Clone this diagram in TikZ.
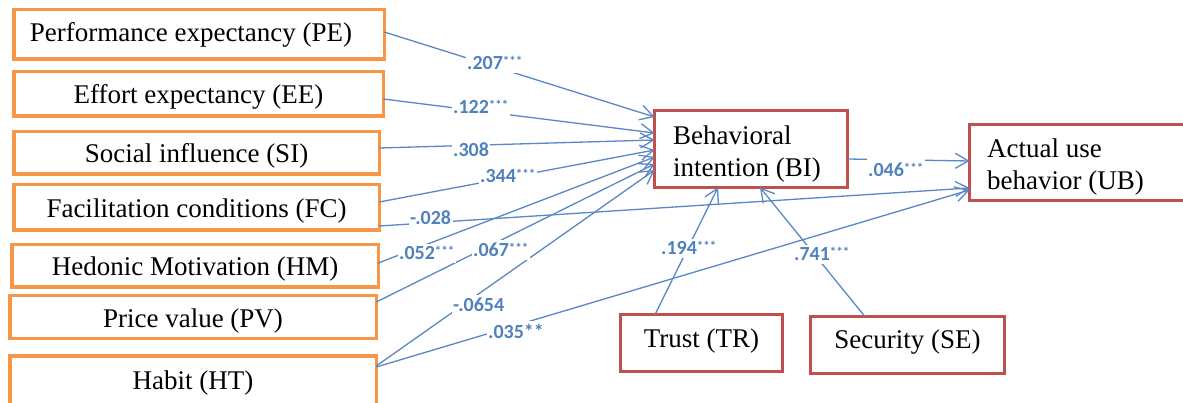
\documentclass[tikz,border=0pt]{standalone}
\usepackage{fontspec}
\setmainfont{Liberation Serif}
\newfontfamily\coeffont{Carlito}
\usetikzlibrary{arrows.meta}
\definecolor{orangeb}{HTML}{F79646}
\definecolor{redb}{HTML}{C0504D}
\definecolor{blueln}{HTML}{5A87C5}
\definecolor{bluetx}{HTML}{4F81BD}
\newcommand\sigstars{\raisebox{4pt}{\fontsize{13}{13}\selectfont ***}}
\begin{document}
\begin{tikzpicture}[x=1pt,y=-1pt,
  obox/.style={draw=orangeb, line width=3.5pt, outer sep=0pt, inner sep=0pt,
    font=\fontsize{27}{32}\selectfont, text height=23pt, text depth=3pt},
  rbox/.style={draw=redb, line width=3.2pt, outer sep=0pt, inner sep=0pt,
    font=\fontsize{27}{32}\selectfont},
  boxtext/.style={inner sep=0pt, anchor=base west, align=left,
    font=\fontsize{27}{32}\selectfont},
  conn/.style={draw=blueln, line width=1.3pt,
    -{Straight Barb[length=13pt,width=15pt,line width=1.3pt]}},
  coef/.style={fill=white, text=bluetx, inner xsep=1.5pt, inner ysep=3pt,
    anchor=base west, font=\coeffont\bfseries\fontsize{20}{22}\selectfont}
]
\useasboundingbox (0,0) rectangle (1183,403);
\fill[white] (0,0) rectangle (1183,403);
\clip (0,0) rectangle (1183,403);

% left constructs
\node[obox, minimum width=370.5pt, minimum height=49.5pt, text height=21pt, text depth=6pt]
  (pe) at (199,34.5) {Performance expectancy (PE)\hspace*{16pt}};
\node[obox, minimum width=369.5pt, minimum height=44.5pt] (ee) at (198.5,94) {Effort expectancy (EE)};
\node[obox, minimum width=365.5pt, minimum height=42.5pt] (si) at (196.5,153) {Social influence (SI)};
\node[obox, minimum width=365.5pt, minimum height=45.5pt] (fc) at (196.5,207.5) {Facilitation conditions (FC)};
\node[obox, minimum width=366.5pt, minimum height=42.5pt] (hm) at (195,266) {Hedonic Motivation (HM)};
\node[obox, minimum width=366.5pt, minimum height=42.5pt] (pv) at (193,317) {Price value (PV)};
\node[obox, minimum width=366.5pt, minimum height=52.5pt, text height=20pt, text depth=6pt]
  (ht) at (193,382) {Habit (HT)};

% right constructs
\node[rbox, minimum width=192.8pt, minimum height=76.8pt] (bi) at (751,149) {};
\node[boxtext] (bitext) at (673,177) {Behavioral\\intention (BI)};
\node[rbox, minimum width=223.8pt, minimum height=75.8pt] (ub) at (1081.5,162.5) {};
\node[boxtext] (ubtext) at (987,190) {Actual use\\behavior (UB)};
\node[rbox, minimum width=161.8pt, minimum height=56.8pt, text height=19pt, text depth=11pt]
  (tr) at (701.5,343) {Trust (TR)};
\node[rbox, minimum width=193.8pt, minimum height=56.8pt, text height=18pt, text depth=12pt]
  (se) at (907.5,345) {Security (SE)};

% connectors
\draw[conn] ([yshift=2.5pt]pe.east) -- ([yshift=32pt]bi.west);
\draw[conn] ([yshift=-5pt]ee.east) -- ([yshift=16pt]bi.west);
\draw[conn] ([yshift=5pt]si.east) -- ([yshift=9pt]bi.west);
\draw[conn] ([yshift=5.5pt]fc.east) -- ([yshift=-1pt]bi.west);
\draw[conn] ([yshift=-18.5pt]fc.east) -- ([yshift=-25.5pt]ub.west);
\draw[conn] ([yshift=3pt]hm.east) -- ([yshift=-8pt]bi.west);
\draw[conn] ([yshift=15pt]pv.east) -- ([yshift=-15pt]bi.west);
\draw[conn] ([yshift=16pt]ht.east) -- ([yshift=-21pt]bi.west);
\draw[conn] ([yshift=15pt]ht.east) -- ([yshift=-27.5pt]ub.west);
\draw[conn] ([yshift=-10pt]bi.east) -- ([yshift=1.5pt]ub.west);
\draw[conn] ([xshift=-46.5pt]tr.north) -- ([xshift=-33pt]bi.south);
\draw[conn] ([xshift=-42.5pt]se.north) -- ([xshift=9pt]bi.south);

% coefficients
\node[coef] (c1) at (465.5,70) {.207\sigstars};
\node[coef] (c2) at (451.5,114) {.122\sigstars};
\node[coef] (c3) at (451.5,157) {.308};
\node[coef] (c4) at (478.5,183) {.344\sigstars};
\node[coef] (c5) at (408.5,225) {-.028};
\node[coef] (c6) at (397.5,260) {.052\sigstars};
\node[coef] (c7) at (471.5,257) {.067\sigstars};
\node[coef] (c8) at (451.5,312) {-.0654};
\node[coef] (c9) at (486.5,338) {.035**};
\node[coef, inner ysep=6pt] (c10) at (866.5,177) {.046\sigstars};
\node[coef] (c11) at (659.5,255) {.194\sigstars};
\node[coef] (c12) at (792.5,261) {.741\sigstars};
\end{tikzpicture}
\end{document}
